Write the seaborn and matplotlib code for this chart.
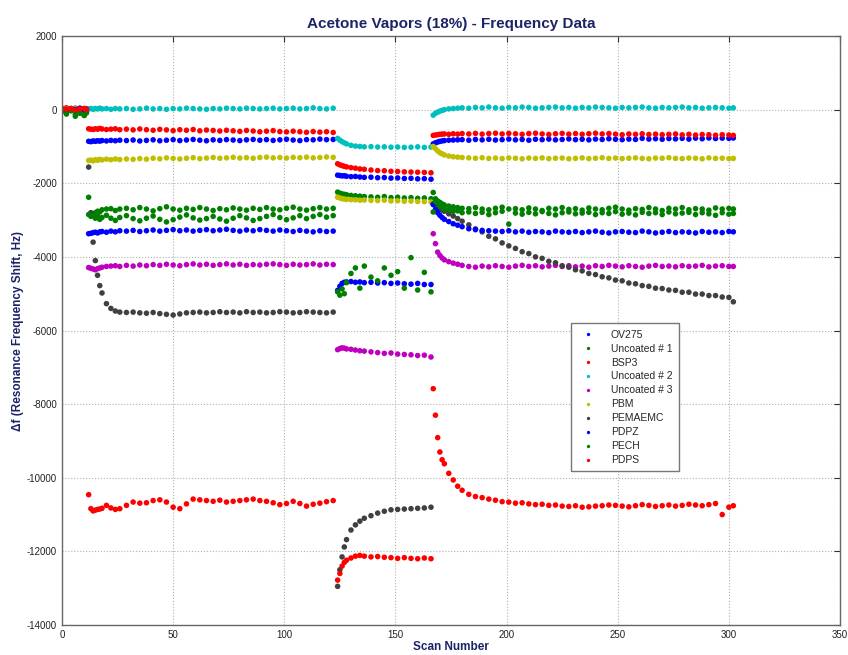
import pandas as pd
import seaborn as sns
import matplotlib.pyplot as plt

# scan numbers (denser where the signals change fast)
scan_p1 = [0, 2, 4, 6, 8, 10, 11]
scan_p2 = [12, 13, 14, 15, 16, 17, 18, 20, 22, 24, 26] + list(range(29, 124, 3))
scan_p3 = [124, 125, 126, 127, 128, 130, 132, 134, 136] + list(range(139, 167, 3))
scan_p4 = [167, 168, 169, 170, 171, 172, 174, 176, 178, 180] + list(range(183, 301, 3)) + [302]
scans = scan_p1 + scan_p2 + scan_p3 + scan_p4

ov275 = [20, -10, 30, 0, 40, 10, 20,
         -860, -870, -850, -860, -845, -855, -840, -850, -835, -845, -830,
         -840, -825, -850, -835, -820, -845, -830, -815,
         -840, -825, -810, -830, -845, -820, -835, -815,
         -825, -840, -820, -810, -830, -815, -835, -820,
         -805, -825, -840, -815, -820, -800, -815, -810,
         -1780, -1790, -1800, -1795, -1810, -1820, -1815, -1830, -1840,
         -1835, -1850, -1845, -1860, -1855, -1870, -1865, -1880, -1875, -1890,
         -930, -900, -880, -860, -850, -840, -830, -825, -820, -815,
         -830, -810, -820, -805, -825, -815, -800, -820,
         -810, -830, -805, -815, -800, -820, -810, -795,
         -815, -805, -820, -800, -810, -790, -805, -815,
         -800, -810, -780, -800, -790, -805, -785, -795,
         -780, -800, -775, -790, -770, -785, -775, -780,
         -770]

uncoated1 = [-30, -80, -20, -120, -60, -150, -90,
             -2380, -2820, -2850, -2800, -2760, -2780, -2720, -2700, -2690, -2740, -2700,
             -2680, -2720, -2660, -2700, -2750, -2690, -2640, -2700,
             -2730, -2680, -2710, -2660, -2700, -2740, -2690, -2720,
             -2670, -2700, -2730, -2680, -2710, -2660, -2700, -2720,
             -2680, -2650, -2700, -2730, -2690, -2660, -2700, -2680,
             -2240, -2270, -2290, -2300, -2310, -2330, -2340, -2350, -2360,
             -2370, -2380, -2360, -2390, -2380, -2400, -2390, -2410, -2400, -2420,
             -2250, -2420, -2480, -2520, -2560, -2590, -2620, -2640, -2660, -2680,
             -2690, -2660, -2700, -2720, -2680, -2650, -2700, -2690,
             -2720, -2670, -2700, -2740, -2680, -2700, -2660, -2710,
             -2690, -2730, -2670, -2700, -2720, -2680, -2650, -2700,
             -2730, -2690, -2710, -2660, -2700, -2740, -2680, -2700,
             -2660, -2720, -2690, -2700, -2730, -2670, -2700, -2680,
             -2700]

bsp3 = [30, 50, 10, 40, -10, 30, 20,
        -520, -530, -540, -520, -530, -510, -525, -540, -530, -520, -545,
        -530, -550, -525, -545, -560, -535, -550, -570,
        -545, -560, -540, -575, -555, -565, -580, -560,
        -575, -590, -565, -580, -600, -585, -570, -595,
        -605, -585, -600, -615, -595, -610, -600, -620,
        -1470, -1500, -1520, -1540, -1555, -1575, -1590, -1610, -1620,
        -1640, -1655, -1660, -1675, -1680, -1690, -1695, -1700, -1705, -1715,
        -700, -690, -680, -670, -665, -660, -670, -655, -665, -650,
        -660, -645, -665, -650, -640, -660, -645, -655,
        -670, -650, -640, -660, -675, -655, -645, -665,
        -650, -670, -655, -640, -660, -650, -665, -680,
        -660, -670, -655, -675, -665, -680, -670, -660,
        -685, -670, -690, -675, -680, -695, -680, -690,
        -700]

uncoated2 = [0, 20, 10, 30, 20, 10, 30,
             20, 30, 10, 30, 20, 40, 20, 30, 10, 30, 20,
             30, 10, 20, 40, 20, 30, 10, 30,
             20, 40, 30, 20, 10, 30, 20, 40,
             30, 20, 40, 30, 20, 30, 40, 20,
             30, 40, 20, 30, 50, 30, 20, 40,
             -780, -830, -870, -900, -930, -970, -990, -1000, -1010,
             -1005, -1015, -1010, -1020, -1015, -1025, -1020, -1010, -1025, -1015,
             -150, -100, -70, -40, -20, 0, 20, 30, 40, 50,
             40, 60, 50, 70, 50, 40, 60, 50,
             70, 60, 40, 50, 60, 70, 50, 60,
             40, 60, 50, 70, 60, 50, 40, 60,
             50, 60, 70, 50, 40, 60, 50, 60,
             70, 50, 60, 40, 50, 60, 50, 40,
             50]

uncoated3 = [10, -10, 20, 0, 30, -20, 10,
             -4290, -4310, -4330, -4350, -4320, -4300, -4280, -4260, -4250, -4240, -4260,
             -4230, -4250, -4220, -4240, -4210, -4230, -4200, -4220,
             -4240, -4210, -4190, -4220, -4200, -4230, -4210, -4190,
             -4220, -4200, -4230, -4210, -4220, -4200, -4190, -4210,
             -4230, -4200, -4220, -4210, -4190, -4220, -4200, -4210,
             -6520, -6490, -6470, -6480, -6500, -6510, -6530, -6550, -6560,
             -6580, -6600, -6620, -6610, -6640, -6650, -6660, -6680, -6670, -6720,
             -3370, -3640, -3870, -3960, -4030, -4080, -4130, -4170, -4200, -4230,
             -4260, -4280, -4250, -4270, -4240, -4260, -4280, -4250,
             -4230, -4260, -4240, -4270, -4250, -4230, -4260, -4240,
             -4270, -4250, -4280, -4240, -4260, -4230, -4250, -4270,
             -4240, -4260, -4280, -4250, -4230, -4260, -4250, -4270,
             -4240, -4260, -4250, -4230, -4270, -4250, -4240, -4260,
             -4260]

pbm = [20, 0, 30, 10, -10, 20, 0,
       -1380, -1370, -1390, -1360, -1375, -1350, -1365, -1345, -1360, -1340, -1355,
       -1340, -1350, -1330, -1345, -1320, -1335, -1310, -1325,
       -1340, -1320, -1305, -1330, -1315, -1300, -1320, -1310,
       -1295, -1315, -1305, -1320, -1300, -1290, -1310, -1300,
       -1315, -1295, -1305, -1290, -1310, -1300, -1285, -1295,
       -2380, -2400, -2420, -2430, -2440, -2445, -2450, -2460, -2455,
       -2465, -2470, -2460, -2480, -2475, -2490, -2485, -2495, -2500, -2510,
       -1000, -1060, -1120, -1170, -1200, -1230, -1260, -1280, -1290, -1300,
       -1310, -1320, -1305, -1325, -1315, -1330, -1310, -1320,
       -1335, -1315, -1325, -1310, -1330, -1320, -1315, -1335,
       -1325, -1310, -1330, -1320, -1305, -1325, -1315, -1330,
       -1320, -1310, -1325, -1335, -1315, -1320, -1305, -1325,
       -1330, -1315, -1320, -1335, -1310, -1325, -1320, -1330,
       -1325]

pemaemc = [0, -20, 10, -10, 20, 0, -10,
           -1560, -2800, -3600, -4100, -4500, -4780, -4980, -5270, -5400, -5470, -5500,
           -5510, -5500, -5520, -5530, -5510, -5540, -5560, -5580,
           -5550, -5520, -5510, -5500, -5520, -5510, -5490, -5510,
           -5500, -5520, -5490, -5510, -5500, -5520, -5510, -5490,
           -5500, -5520, -5510, -5490, -5500, -5510, -5520, -5500,
           -12950, -12500, -12150, -11880, -11680, -11420, -11280, -11180, -11100,
           -11030, -10960, -10910, -10870, -10860, -10850, -10840, -10830, -10820, -10800,
           -2560, -2620, -2660, -2690, -2730, -2760, -2830, -2890, -2960, -3030,
           -3130, -3240, -3320, -3440, -3510, -3620, -3700, -3770,
           -3860, -3910, -4000, -4040, -4120, -4160, -4240, -4280,
           -4350, -4380, -4450, -4480, -4540, -4570, -4630, -4650,
           -4710, -4730, -4780, -4800, -4850, -4860, -4900, -4910,
           -4960, -4960, -5010, -5010, -5050, -5050, -5090, -5100,
           -5220]

pdpz = [10, -20, 20, 0, 30, -10, 10,
        -3370, -3360, -3340, -3330, -3350, -3320, -3310, -3330, -3300, -3320, -3290,
        -3300, -3280, -3310, -3290, -3270, -3300, -3280, -3260,
        -3290, -3270, -3300, -3280, -3260, -3290, -3270, -3250,
        -3280, -3300, -3270, -3290, -3260, -3280, -3300, -3270,
        -3290, -3310, -3280, -3300, -3320, -3290, -3310, -3300,
        -4910, -4800, -4720, -4690, -4680, -4670, -4690, -4680, -4700,
        -4690, -4710, -4700, -4720, -4710, -4730, -4740, -4720, -4750, -4750,
        -2580, -2720, -2800, -2870, -2930, -2980, -3040, -3100, -3140, -3180,
        -3235, -3260, -3280, -3290, -3300, -3310, -3290, -3320,
        -3300, -3330, -3310, -3320, -3340, -3300, -3320, -3330,
        -3310, -3340, -3320, -3300, -3330, -3350, -3320, -3310,
        -3330, -3340, -3300, -3320, -3350, -3330, -3310, -3340,
        -3320, -3330, -3350, -3310, -3330, -3320, -3340, -3310,
        -3320]

pech = [-50, -120, -30, -180, -100, -160, -60,
        -2850, -2900, -2880, -2950, -2900, -2980, -2930, -2870, -2950, -3010, -2930,
        -2880, -2960, -3020, -2950, -2890, -2980, -3050, -2990,
        -2920, -2860, -2940, -3000, -2960, -2900, -2970, -3030,
        -2950, -2880, -2940, -3010, -2960, -2900, -2850, -2930,
        -2990, -2940, -2880, -2960, -2900, -2850, -2920, -2880,
        -4950, -5040, -4870, -5000, -4700, -4450, -4300, -4850, -4250,
        -4550, -4650, -4300, -4500, -4400, -4850, -4020, -4900, -4420, -4950,
        -2780, -2500, -2550, -2600, -2650, -2700, -2720, -2760, -2750, -2800,
        -2780, -2820, -2790, -2850, -2800, -2760, -3110, -2810,
        -2840, -2790, -2830, -2770, -2820, -2860, -2800, -2780,
        -2830, -2810, -2790, -2850, -2800, -2820, -2770, -2840,
        -2810, -2860, -2790, -2820, -2800, -2850, -2780, -2830,
        -2810, -2790, -2850, -2800, -2830, -2870, -2800, -2840,
        -2820]

pdps = [40, 10, 30, -10, 20, 30, 0,
        -10460, -10840, -10900, -10880, -10860, -10850, -10830, -10750, -10820, -10860, -10840,
        -10750, -10660, -10690, -10680, -10620, -10600, -10660, -10800,
        -10840, -10710, -10580, -10600, -10620, -10640, -10610, -10660,
        -10640, -10620, -10600, -10580, -10620, -10640, -10680, -10730,
        -10700, -10640, -10700, -10770, -10720, -10690, -10650, -10620,
        -12780, -12600, -12400, -12300, -12240, -12180, -12130, -12110, -12130,
        -12150, -12140, -12160, -12170, -12190, -12170, -12190, -12200, -12180, -12200,
        -7580, -8300, -8910, -9300, -9510, -9620, -9880, -10060, -10230, -10340,
        -10450, -10510, -10540, -10580, -10610, -10650, -10660, -10690,
        -10680, -10710, -10730, -10720, -10750, -10740, -10770, -10780,
        -10760, -10800, -10790, -10770, -10760, -10740, -10750, -10770,
        -10790, -10760, -10730, -10750, -10780, -10760, -10740, -10770,
        -10750, -10720, -10740, -10760, -10730, -10700, -11000, -10800,
        -10760]

names = ["OV275", "Uncoated # 1", "BSP3", "Uncoated # 2", "Uncoated # 3",
         "PBM", "PEMAEMC", "PDPZ", "PECH", "PDPS"]
series = [ov275, uncoated1, bsp3, uncoated2, uncoated3, pbm, pemaemc, pdpz, pech, pdps]
colors = ["#0000ff", "#008000", "#ff0000", "#00bfbf", "#bf00bf",
          "#bfbf00", "#404040", "#0000ff", "#008000", "#ff0000"]


def main():
    frames = []
    for name, vals in zip(names, series):
        if len(vals) != len(scans):
            raise ValueError(f"{name}: {len(vals)} values, {len(scans)} scans")
        frames.append(pd.DataFrame({"scan": scans, "shift": vals, "sensor": name}))
    df = pd.concat(frames, ignore_index=True)

    sns.set_style("white")
    plt.rcParams["font.family"] = ["Liberation Sans", "DejaVu Sans"]
    plt.rcParams["axes.unicode_minus"] = False

    fig = plt.figure(figsize=(8.48, 6.55), dpi=100)
    ax = fig.add_axes([0.0731, 0.0458, 0.9175, 0.8992])

    sns.scatterplot(data=df, x="scan", y="shift", hue="sensor", hue_order=names,
                    palette=dict(zip(names, colors)), s=16, linewidth=0,
                    marker="o", ax=ax)

    ax.set_xlim(0, 350)
    ax.set_ylim(-14000, 2000)
    ax.set_xticks(range(0, 351, 50))
    ax.set_yticks(range(-14000, 2001, 2000))
    ax.grid(True, linestyle=":", color="#b0b0b0", linewidth=0.8)
    ax.tick_params(direction="in", length=4, labelsize=7, top=True, right=True,
                   colors="#333333", labelcolor="#222222")
    for sp in ax.spines.values():
        sp.set_color("#666666")
        sp.set_linewidth(1.0)

    navy = "#1c2466"
    ax.set_title("Acetone Vapors (18%) - Frequency Data", fontsize=11,
                 fontweight="bold", color=navy, pad=6)
    ax.set_xlabel("Scan Number", fontsize=8.5, fontweight="bold", color=navy, labelpad=1)
    ax.set_ylabel("\u0394f (Resonance Frequency Shift, Hz)", fontsize=8.5,
                  fontweight="bold", color=navy, labelpad=2)

    handles, labels = ax.get_legend_handles_labels()
    leg = ax.legend(handles, labels, loc="upper left", bbox_to_anchor=(0.648, 0.521),
                    fontsize=7.5, frameon=True, fancybox=False, framealpha=1,
                    edgecolor="#777777", handletextpad=1.2, borderpad=0.6,
                    labelspacing=0.38, markerscale=0.6)
    leg.get_frame().set_linewidth(1.0)

    fig.savefig("out.png", dpi=100)


if __name__ == "__main__":
    main()
